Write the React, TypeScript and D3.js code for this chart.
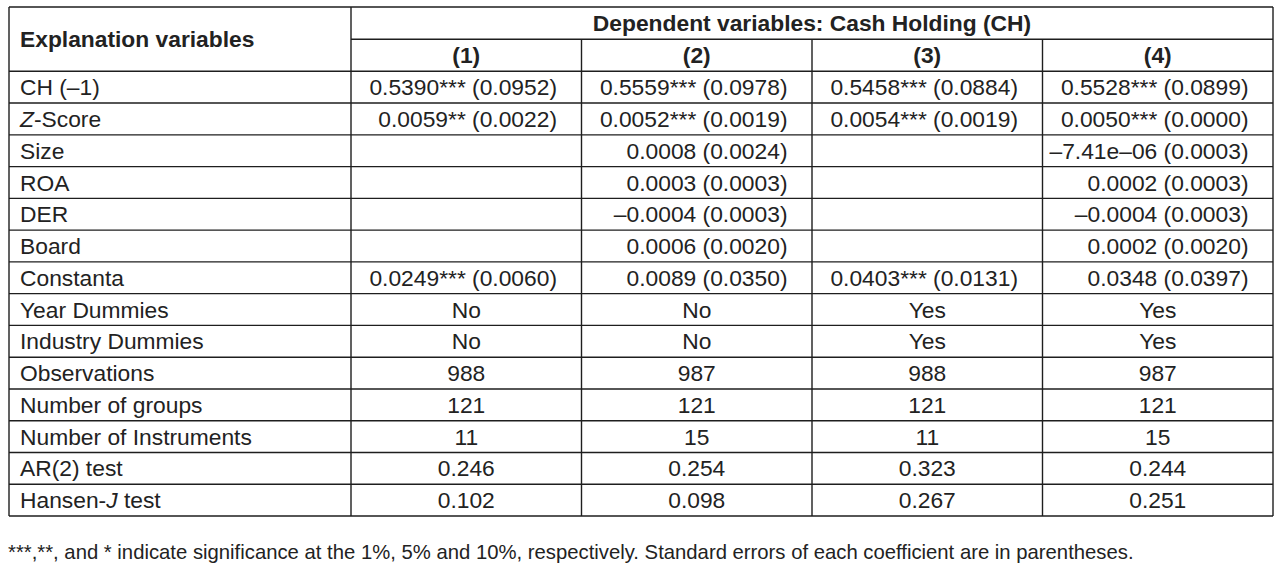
import React from "react";
import * as d3 from "d3";

const modelHeaders = ["(1)", "(2)", "(3)", "(4)"];
const groupTitle = "Dependent variables: Cash Holding (CH)";
const stubTitle = "Explanation variables";
const rowLabels = [
  "CH (–1)",
  "Z-Score",
  "Size",
  "ROA",
  "DER",
  "Board",
  "Constanta",
  "Year Dummies",
  "Industry Dummies",
  "Observations",
  "Number of groups",
  "Number of Instruments",
  "AR(2) test",
  "Hansen-J test",
];
const model1 = ["0.5390*** (0.0952)", "0.0059** (0.0022)", "", "", "", "", "0.0249*** (0.0060)", "No", "No", "988", "121", "11", "0.246", "0.102"];
const model2 = ["0.5559*** (0.0978)", "0.0052*** (0.0019)", "0.0008 (0.0024)", "0.0003 (0.0003)", "–0.0004 (0.0003)", "0.0006 (0.0020)", "0.0089 (0.0350)", "No", "No", "987", "121", "15", "0.254", "0.098"];
const model3 = ["0.5458*** (0.0884)", "0.0054*** (0.0019)", "", "", "", "", "0.0403*** (0.0131)", "Yes", "Yes", "988", "121", "11", "0.323", "0.267"];
const model4 = ["0.5528*** (0.0899)", "0.0050*** (0.0000)", "–7.41e–06 (0.0003)", "0.0002 (0.0003)", "–0.0004 (0.0003)", "0.0002 (0.0020)", "0.0348 (0.0397)", "Yes", "Yes", "987", "121", "15", "0.244", "0.251"];
const coefRowCount = 7;
const footnote = "***,**, and * indicate significance at the 1%, 5% and 10%, respectively. Standard errors of each coefficient are in parentheses.";

const W = 1284;
const H = 580;
const left = 9;
const right = 1273;
const stubRight = 351;
const top = 7;
const headMid = 39.3;
const headBottom = 71.3;
const bodyBottom = 516;
const FONT = "'Liberation Sans', Arial, sans-serif";
const FS = 22.8;
const INK = "#222";
const LINE = "#1e1e1e";

function Label({ text }: { text: string }) {
  if (text === "Z-Score") {
    return (
      <>
        <tspan fontStyle="italic">Z</tspan>
        <tspan>-Score</tspan>
      </>
    );
  }
  if (text === "Hansen-J test") {
    return (
      <>
        <tspan>Hansen-</tspan>
        <tspan fontStyle="italic">J</tspan>
        <tspan> test</tspan>
      </>
    );
  }
  return <>{text}</>;
}

export default function App() {
  const models = [model1, model2, model3, model4];
  const x = d3.scaleLinear().domain([0, models.length]).range([stubRight, right]);
  const y = d3.scaleLinear().domain([0, rowLabels.length]).range([headBottom, bodyBottom]);
  const rowH = y(1) - y(0);
  const baseOff = FS * 0.355;
  const pad = 24.5;

  return (
    <svg
      width={W}
      height={H}
      style={{ position: "absolute", left: 0, top: 0, background: "#fff" }}
      fontFamily={FONT}
    >
      <rect x={0} y={0} width={W} height={H} fill="#fff" />
      {/* horizontal lines */}
      <line x1={left} x2={right} y1={top} y2={top} stroke={LINE} strokeWidth={1.4} />
      <line x1={stubRight} x2={right} y1={headMid} y2={headMid} stroke={LINE} strokeWidth={1.4} />
      {d3.range(rowLabels.length + 1).map((i) => (
        <line key={"h" + i} x1={left} x2={right} y1={y(i)} y2={y(i)} stroke={LINE} strokeWidth={1.4} />
      ))}
      {/* vertical lines */}
      <line x1={left} x2={left} y1={top} y2={bodyBottom} stroke={LINE} strokeWidth={1.4} />
      <line x1={right} x2={right} y1={top} y2={bodyBottom} stroke={LINE} strokeWidth={1.4} />
      <line x1={stubRight} x2={stubRight} y1={top} y2={bodyBottom} stroke={LINE} strokeWidth={1.4} />
      {d3.range(1, models.length).map((j) => (
        <line key={"v" + j} x1={x(j)} x2={x(j)} y1={headMid} y2={bodyBottom} stroke={LINE} strokeWidth={1.4} />
      ))}

      {/* header */}
      <text x={20} y={(top + headBottom) / 2 + baseOff} fontSize={FS} fontWeight="bold" fill={INK}>
        {stubTitle}
      </text>
      <text x={(stubRight + right) / 2} y={(top + headMid) / 2 + baseOff} fontSize={FS} fontWeight="bold" fill={INK} textAnchor="middle">
        {groupTitle}
      </text>
      {modelHeaders.map((h, j) => (
        <text key={"mh" + j} x={(x(j) + x(j + 1)) / 2} y={(headMid + headBottom) / 2 + baseOff} fontSize={FS} fontWeight="bold" fill={INK} textAnchor="middle">
          {h}
        </text>
      ))}

      {/* body */}
      {rowLabels.map((lab, i) => (
        <text key={"rl" + i} x={20} y={y(i) + rowH / 2 + baseOff} fontSize={FS} fill={INK}>
          <Label text={lab} />
        </text>
      ))}
      {models.map((m, j) =>
        m.map((v, i) => {
          if (!v) return null;
          const coef = i < coefRowCount;
          return (
            <text
              key={"c" + j + "-" + i}
              x={coef ? x(j + 1) - pad : (x(j) + x(j + 1)) / 2}
              y={y(i) + rowH / 2 + baseOff}
              fontSize={FS}
              fill={INK}
              textAnchor={coef ? "end" : "middle"}
            >
              {v}
            </text>
          );
        })
      )}

      <text x={8} y={559} fontSize={20.3} fill={INK}>
        {footnote}
      </text>
    </svg>
  );
}
